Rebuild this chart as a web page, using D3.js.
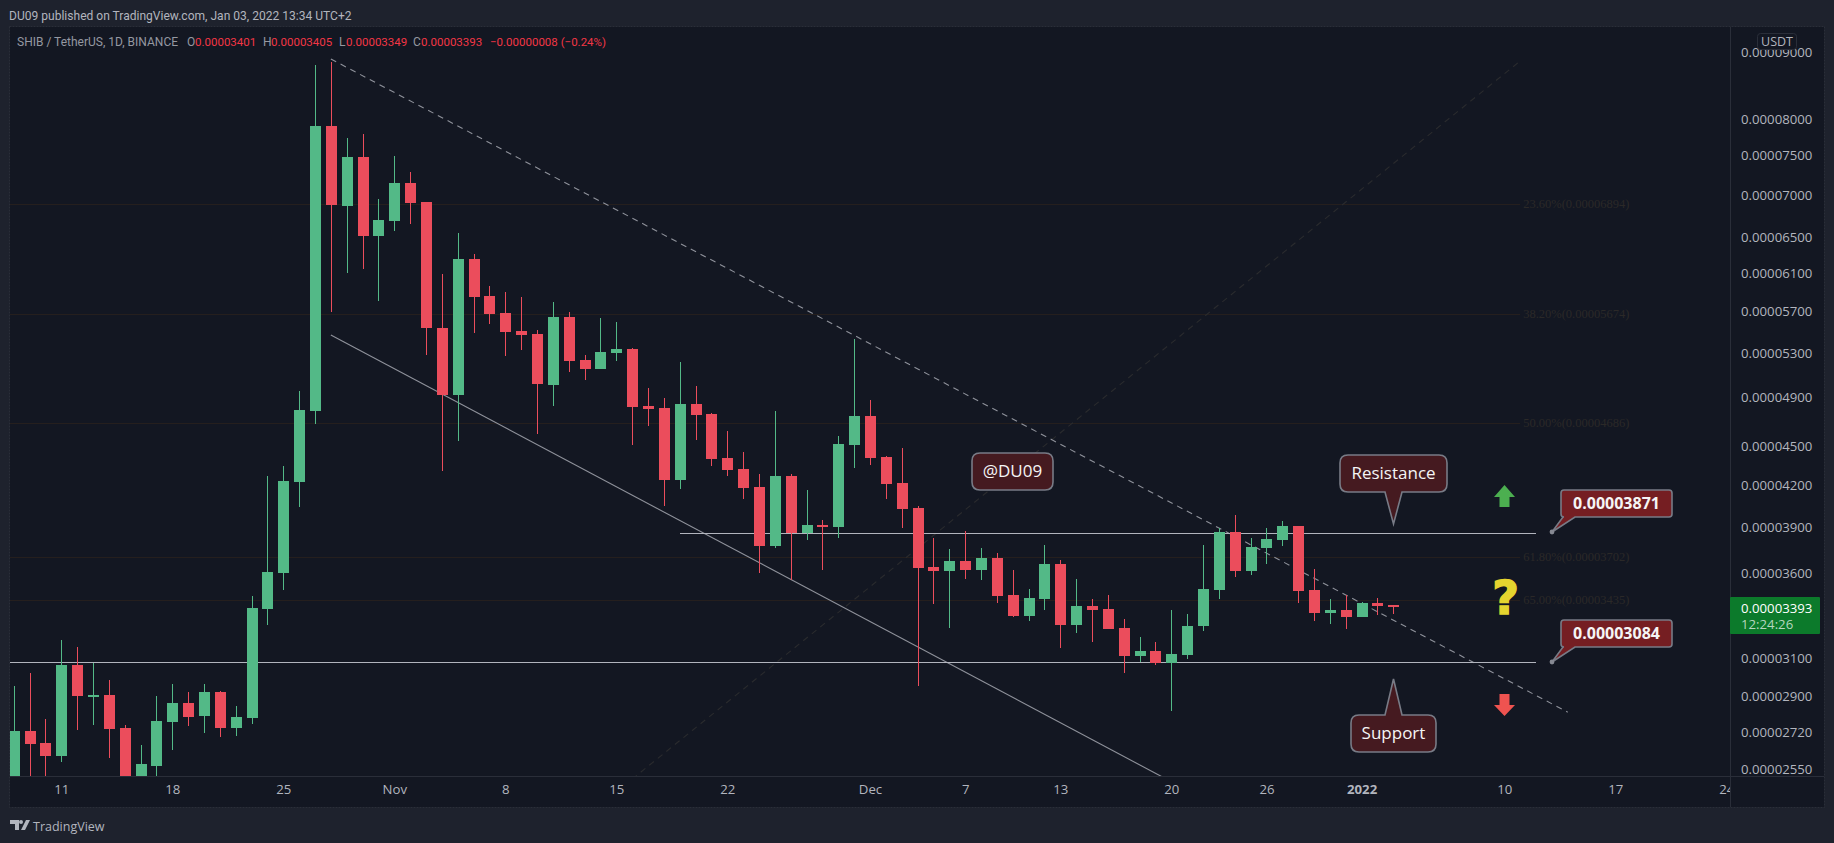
<!DOCTYPE html>
<html>
<head>
<title>SHIB / TetherUS</title>
<script src="https://d3js.org/d3.v7.min.js"></script>
<style type="text/css">
  html, body { margin: 0; padding: 0; background: #1e222d; overflow: hidden; }
  text { font-family: "Open Sans", sans-serif; }
  .axisText text { fill: #b2b5be; font-size: 13.2px; font-family: "Open Sans", sans-serif; }
  .fibLabel { fill: #2b2928; font-size: 12.5px; font-family: "Liberation Serif", serif !important; }
  .legendPart { font-family: Roboto, sans-serif; }
</style>
</head>
<body>
<script type="text/javascript">
// prices are in units of 0.00000001, first candle is 2021-10-08, one per day
var firstDay = "2021-10-08";
var opens = [2479,2726,2669,2608,3062,2894,2904,2741,2479,2563,2769,2864,2799,2920,2741,2789,3379,3600,4225,4786,
  7902,6865,7482,6512,6686,7148,6913,5538,4923,6254,5859,5687,5509,5481,5010,5647,5236,5153,5301,5338,
  4829,4812,4239,4846,4761,4406,4322,4187,3775,4269,3862,3916,3902,4508,4744,4414,4217,4035,3638,3612,
  3677,3619,3696,3462,3337,3438,3657,3285,3396,3379,3268,3111,3138,3073,3116,3279,3493,3868,3612,3761,
  3815,3909,3493,3355,3373,3332,3414,3401];
var highs = [2951,3019,2784,3199,3160,3073,2982,2755,2659,2899,2961,2920,2961,2925,2849,3456,4269,4345,4957,8797,
  8844,7737,7792,6950,7495,7287,6913,6091,6546,6308,5964,5901,5849,5519,5798,5697,5282,5637,5597,5347,
  4984,4897,5218,5001,4770,4621,4453,4285,4786,4285,4165,3951,4580,5433,4880,4422,4485,4050,3828,3755,
  3875,3761,3728,3619,3499,3781,3683,3561,3438,3462,3320,3216,3188,3373,3349,3781,3896,3986,3828,3896,
  3944,3909,3625,3438,3462,3420,3444,3405];
var lows = [2457,2479,2510,2581,2731,2755,2599,2414,2457,2510,2636,2750,2717,2698,2702,2760,3285,3493,4042,4678,
  5697,6102,6145,5809,6569,6651,5282,4307,4540,5490,5578,5273,5329,4596,4829,5126,5055,5153,5227,4508,
  4661,4050,4172,4548,4345,4269,4100,3600,3761,3555,3815,3619,3828,4330,4353,4100,3896,2951,3408,3268,
  3561,3555,3414,3332,3308,3373,3154,3239,3188,3262,3019,3078,3062,2823,3094,3250,3438,3574,3587,3657,
  3775,3414,3308,3291,3262,3332,3343,3349];
var closes = [2726,2664,2608,3062,2899,2904,2736,2457,2572,2774,2864,2794,2920,2741,2794,3385,3606,4232,4795,7902,
  6877,7482,6512,6698,7148,6901,5538,4923,6254,5849,5677,5500,5471,5019,5647,5227,5153,5310,5338,4820,
  4803,4239,4846,4753,4399,4315,4180,3775,4269,3862,3916,3902,4516,4744,4406,4210,4028,3632,3612,3677,
  3619,3696,3456,3337,3444,3657,3285,3396,3373,3262,3111,3138,3073,3121,3279,3499,3868,3612,3768,3821,
  3909,3487,3355,3373,3332,3414,3396,3393];

var priceTicks = [9000,8000,7500,7000,6500,6100,5700,5300,4900,4500,4200,3900,3600,3100,2900,2720,2550];
var tickDates = ["2021-10-11","2021-10-18","2021-10-25","2021-11-01","2021-11-08","2021-11-15","2021-11-22",
  "2021-12-01","2021-12-07","2021-12-13","2021-12-20","2021-12-26","2022-01-01","2022-01-10","2022-01-17","2022-01-24"];
var tickLabels = ["11","18","25","Nov","8","15","22","Dec","7","13","20","26","2022","10","17","24"];

var fibRatios = ["23.60%","38.20%","50.00%","61.80%","65.00%"];
var fibPrices = [6894,5674,4686,3702,3435];

var width = 1834, height = 843;
var plotLeft = 10, plotTop = 27, axisX = 1730, axisY = 776, plotRight = 1824, plotBottom = 807;

var x = d3.scaleUtc()
  .domain([new Date("2021-10-08"), new Date("2022-01-03")])
  .range([13.7, 1393.3]);
var y = d3.scaleLog()
  .domain([2550, 8000])
  .range([769, 119]);

function dayOf(i) { return d3.utcDay.offset(new Date(firstDay), i); }
function priceText(v) { return d3.format(".8f")(v / 1e8); }

var svg = d3.select("body").append("svg")
  .attr("width", width)
  .attr("height", height)
  .style("display", "block");

svg.append("rect").attr("width", width).attr("height", height).attr("fill", "#1e222d");

// chart panel
svg.append("rect")
  .attr("x", plotLeft - 0.5).attr("y", plotTop - 0.5)
  .attr("width", plotRight - plotLeft + 1).attr("height", plotBottom - plotTop + 1)
  .attr("fill", "#131722")
  .attr("stroke", "#2a2e39")
  .attr("stroke-dasharray", "2 1");

var defs = svg.append("defs");
defs.append("clipPath").attr("id", "plotClip")
  .append("rect")
  .attr("x", plotLeft).attr("y", plotTop)
  .attr("width", axisX - plotLeft).attr("height", axisY - plotTop);
defs.append("clipPath").attr("id", "timeClip")
  .append("rect")
  .attr("x", plotLeft).attr("y", 0)
  .attr("width", axisX - plotLeft).attr("height", plotBottom - axisY);

var plot = svg.append("g").attr("clip-path", "url(#plotClip)");

// fib levels
var fibLeft = new Date("2021-10-01"), fibRight = new Date("2022-01-11");
plot.selectAll("line.fib")
  .data(fibPrices)
  .enter()
  .append("line")
  .attr("class", "fib")
  .attr("x1", x(fibLeft))
  .attr("x2", x(fibRight))
  .attr("y1", function(d) { return Math.round(y(d)) + 0.5; })
  .attr("y2", function(d) { return Math.round(y(d)) + 0.5; })
  .attr("stroke", "#251f1e");

plot.selectAll("text.fibLabel")
  .data(fibPrices)
  .enter()
  .append("text")
  .attr("class", "fibLabel")
  .attr("x", x(fibRight) + 3)
  .attr("y", function(d) { return y(d) + 4; })
  .text(function(d, i) { return fibRatios[i] + "(" + priceText(d) + ")"; });

// fib trend line, channel and levels
var trendLines = [
  { from: ["2021-11-16", 2505], to: ["2022-01-11", 8859], color: "#2a2b2e", dash: "6 5" },
  { from: ["2021-10-28", 8891], to: ["2022-01-14", 2818], color: "#8f929b", dash: "6 5" },
  { from: ["2021-10-28", 5471], to: ["2021-12-21", 2457], color: "#8f929b", dash: null },
  { from: ["2021-11-19", 3862], to: ["2022-01-12", 3862], color: "#b2b5be", dash: null },
  { from: ["2021-10-01", 3077], to: ["2022-01-12", 3077], color: "#b2b5be", dash: null }
];

plot.selectAll("line.trend")
  .data(trendLines)
  .enter()
  .append("line")
  .attr("class", "trend")
  .attr("x1", function(d) { return x(new Date(d.from[0])); })
  .attr("y1", function(d) { return y(d.from[1]); })
  .attr("x2", function(d) { return x(new Date(d.to[0])); })
  .attr("y2", function(d) { return y(d.to[1]); })
  .attr("stroke", function(d) { return d.color; })
  .attr("stroke-width", function(d) { return d.from[1] == d.to[1] ? 1 : 1.1; })
  .attr("shape-rendering", function(d) { return d.from[1] == d.to[1] ? "crispEdges" : null; })
  .attr("stroke-dasharray", function(d) { return d.dash; });

// candles
var upColor = "#53b987", downColor = "#eb4d5c", bodyWidth = 11;
function candleColor(d, i) { return closes[i] >= opens[i] ? upColor : downColor; }

plot.selectAll("rect.wick")
  .data(opens)
  .enter()
  .append("rect")
  .attr("class", "wick")
  .attr("x", function(d, i) { return Math.round(x(dayOf(i))); })
  .attr("width", 1)
  .attr("y", function(d, i) { return y(highs[i]); })
  .attr("height", function(d, i) { return y(lows[i]) - y(highs[i]); })
  .attr("fill", candleColor)
  .attr("shape-rendering", "crispEdges");

plot.selectAll("rect.body")
  .data(opens)
  .enter()
  .append("rect")
  .attr("class", "body")
  .attr("x", function(d, i) { return Math.round(x(dayOf(i))) - 5; })
  .attr("width", bodyWidth)
  .attr("y", function(d, i) { return y(Math.max(opens[i], closes[i])); })
  .attr("height", function(d, i) { return Math.max(1, Math.abs(y(opens[i]) - y(closes[i]))); })
  .attr("fill", candleColor)
  .attr("shape-rendering", "crispEdges");

// axes
svg.append("line").attr("x1", axisX + 0.5).attr("x2", axisX + 0.5).attr("y1", plotTop).attr("y2", plotBottom).attr("stroke", "#2a2e39");
svg.append("line").attr("x1", plotLeft).attr("x2", plotRight).attr("y1", axisY + 0.5).attr("y2", axisY + 0.5).attr("stroke", "#2a2e39");

var yAxis = d3.axisRight(y)
  .tickValues(priceTicks)
  .tickFormat(priceText)
  .tickSize(0)
  .tickPadding(0);
svg.append("g")
  .attr("class", "axisText")
  .attr("transform", "translate(1741,0)")
  .call(yAxis)
  .call(function(g) { g.select(".domain").remove(); });

var xAxis = d3.axisBottom(x)
  .tickValues(tickDates.map(function(d) { return new Date(d); }))
  .tickFormat(function(d, i) { return tickLabels[i]; })
  .tickSize(0)
  .tickPadding(9);
svg.append("g")
  .attr("class", "axisText")
  .attr("clip-path", "url(#timeClip)")
  .attr("transform", "translate(0," + axisY + ")")
  .call(xAxis)
  .call(function(g) {
    g.select(".domain").remove();
    g.selectAll("text").filter(function(d, i) { return tickLabels[i] == "2022"; }).style("font-weight", "bold");
  });

// header texts
svg.append("text").attr("x", 9).attr("y", 20).attr("fill", "#b2b5be").attr("font-size", 12.05)
  .style("font-family", "Roboto")
  .text("DU09 published on TradingView.com, Jan 03, 2022 13:34 UTC+2");

var legendParts = [
  { x: 17, t: "SHIB / TetherUS, 1D, BINANCE", c: "#9598a1", s: 12 },
  { x: 187, t: "O", c: "#9598a1", s: 12 }, { x: 195, t: priceText(opens[87]), c: "#f23645", s: 11.5 },
  { x: 263, t: "H", c: "#9598a1", s: 12 }, { x: 271, t: priceText(highs[87]), c: "#f23645", s: 11.5 },
  { x: 339, t: "L", c: "#9598a1", s: 12 }, { x: 346, t: priceText(lows[87]), c: "#f23645", s: 11.5 },
  { x: 413, t: "C", c: "#9598a1", s: 12 }, { x: 421, t: priceText(closes[87]), c: "#f23645", s: 11.5 },
  { x: 490, t: "\u22120.00000008 (\u22120.24%)", c: "#f23645", s: 11.5 }
];
svg.selectAll("text.legendPart")
  .data(legendParts)
  .enter()
  .append("text")
  .attr("class", "legendPart")
  .attr("x", function(d) { return d.x; })
  .attr("y", 46)
  .attr("font-size", function(d) { return d.s; })
  .attr("fill", function(d) { return d.c; })
  .text(function(d) { return d.t; });

// speech bubbles, rounded box with a tail on the top or bottom edge
function bubblePath(b) {
  var r = b.r, p = "M" + (b.x0 + r) + "," + b.y0;
  if (b.tailTop) p += "H" + b.tail[0] + "L" + b.tip[0] + "," + b.tip[1] + "L" + b.tail[1] + "," + b.y0;
  p += "H" + (b.x1 - r) + "Q" + b.x1 + "," + b.y0 + " " + b.x1 + "," + (b.y0 + r);
  p += "V" + (b.y1 - r) + "Q" + b.x1 + "," + b.y1 + " " + (b.x1 - r) + "," + b.y1;
  if (b.tail && !b.tailTop) p += "H" + b.tail[1] + "L" + b.tip[0] + "," + b.tip[1] + "L" + b.tail[0] + "," + b.y1;
  p += "H" + (b.x0 + r) + "Q" + b.x0 + "," + b.y1 + " " + b.x0 + "," + (b.y1 - r);
  p += "V" + (b.y0 + r) + "Q" + b.x0 + "," + b.y0 + " " + (b.x0 + r) + "," + b.y0 + "Z";
  return p;
}

var darkRed = "#451a20", brightRed = "#751e22", edge = "#787b86";
var levelX = 1552, resY = 532, supY = 662;
var bubbles = [
  { text: "@DU09", x0: 972, x1: 1053, y0: 453, y1: 490, r: 8, fill: darkRed, size: 17 },
  { text: "Resistance", x0: 1340, x1: 1447, y0: 455, y1: 492, r: 8, fill: darkRed, size: 17, tail: [1385, 1402], tip: [1393.5, 524] },
  { text: "Support", x0: 1351, x1: 1436, y0: 715, y1: 752, r: 8, fill: darkRed, size: 17, tailTop: true, tail: [1385, 1402], tip: [1393.5, 679] },
  { text: "0.00003871", x0: 1561, x1: 1672, y0: 490, y1: 517, r: 3, fill: brightRed, size: 16, bold: true, tail: [1563, 1575], tip: [levelX, resY] },
  { text: "0.00003084", x0: 1561, x1: 1672, y0: 620, y1: 647, r: 3, fill: brightRed, size: 16, bold: true, tail: [1563, 1575], tip: [levelX, supY] }
];
var bubbleG = svg.selectAll("g.bubble").data(bubbles).enter().append("g").attr("class", "bubble");
bubbleG.append("path")
  .attr("d", bubblePath)
  .attr("fill", function(d) { return d.fill; })
  .attr("stroke", edge)
  .attr("stroke-width", 1.6);
bubbleG.append("text")
  .attr("x", function(d) { return (d.x0 + d.x1) / 2; })
  .attr("y", function(d) { return (d.y0 + d.y1) / 2 + d.size * 0.35; })
  .attr("text-anchor", "middle")
  .attr("font-size", function(d) { return d.size; })
  .attr("font-weight", function(d) { return d.bold ? "bold" : "normal"; })
  .attr("fill", "#f5f5f5")
  .text(function(d) { return d.text; });
svg.selectAll("circle.anchor").data([resY, supY]).enter().append("circle")
  .attr("class", "anchor").attr("cx", levelX).attr("cy", function(d) { return d; }).attr("r", 2.4).attr("fill", "#868993");

// arrows and question mark
svg.append("path").attr("d", "M1504.5,485L1515,497H1509.5V507H1499.5V497H1494Z").attr("fill", "#4caf50");
svg.append("path").attr("d", "M1504.5,716L1515,705H1509.5V694H1499.5V705H1494Z").attr("fill", "#ef5350");
svg.append("text").attr("x", 1505.5).attr("y", 613.5).attr("text-anchor", "middle")
  .attr("font-size", 46).attr("font-weight", "bold").attr("fill", "#e5d42f")
  .attr("stroke", "#e5d42f").attr("stroke-width", 1.5)
  .style("font-family", "'DejaVu Sans'").text("?");

// last price tag
svg.append("rect").attr("x", 1730).attr("y", 597).attr("width", 90).attr("height", 37).attr("rx", 1).attr("fill", "#0c7a2b");
svg.append("text").attr("x", 1741).attr("y", 613).attr("font-size", 13.2).attr("fill", "#ffffff").text(priceText(closes[87]));
svg.append("text").attr("x", 1741).attr("y", 629).attr("font-size", 13.2).attr("fill", "#b5d6bf").text("12:24:26");

// currency badge
svg.append("rect").attr("x", 1757.5).attr("y", 33.5).attr("width", 39).attr("height", 16).attr("rx", 3)
  .attr("fill", "#131722").attr("stroke", "#2a2e39");
svg.append("text").attr("x", 1777).attr("y", 46).attr("text-anchor", "middle").attr("font-size", 12.5).attr("fill", "#b2b5be").text("USDT");

// footer logo
svg.append("path").attr("d", "M10,820H19V830H15V824H10Z M26,820H30L25,830H21Z").attr("fill", "#b2b5be");
svg.append("circle").attr("cx", 21).attr("cy", 822).attr("r", 2).attr("fill", "#b2b5be");
svg.append("text").attr("x", 33).attr("y", 831).attr("font-size", 12.5).attr("fill", "#b2b5be").text("TradingView");
</script>
</body>
</html>
